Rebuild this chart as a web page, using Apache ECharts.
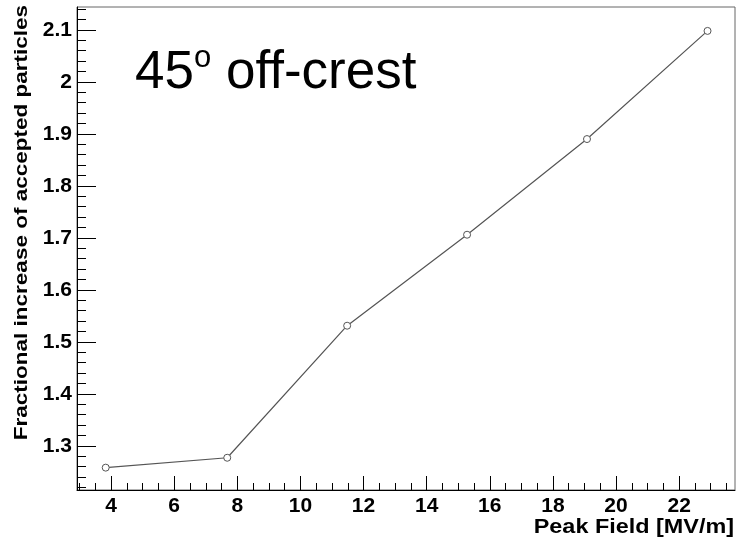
<!DOCTYPE html>
<html>
<head>
<meta charset="utf-8">
<script src="https://cdn.jsdelivr.net/npm/echarts@6/dist/echarts.min.js"></script>
<style>
  html, body { margin: 0; padding: 0; background: #fff; }
  #main { width: 738px; height: 540px; }
</style>
</head>
<body>
<div id="main"></div>
<script>
// peak field [MV/m] and fractional increase
var peakField = [3.83, 7.68, 11.48, 15.28, 19.08, 22.9];
var fracIncrease = [1.258, 1.277, 1.531, 1.706, 1.890, 2.098];

var xMajor = [4, 6, 8, 10, 12, 14, 16, 18, 20, 22];
var yMajor = [1.3, 1.4, 1.5, 1.6, 1.7, 1.8, 1.9, 2.0, 2.1];

var xMin = 2.92, xMax = 23.77;
var yMin = 1.215, yMax = 2.144;

// minor ticks: every 0.5 on x, every 0.02 on y
var xMinor = [];
for (var i = 6; i <= 47; i++) {
    if (i % 4 !== 0) xMinor.push(i / 2);
}
var yMinor = [];
for (var j = 61; j <= 107; j++) {
    if (j % 5 !== 0) yMinor.push(j / 50);
}

var labelFont = 'Liberation Sans, Arial, Helvetica, sans-serif';

var myChart = echarts.init(document.getElementById('main'));

var option = {
    animation: false,
    grid: {
        left: 77,
        top: 7,
        right: 3,
        bottom: 50,
        show: true,
        borderColor: '#666',
        borderWidth: 1
    },
    xAxis: [{
        type: 'value',
        min: xMin,
        max: xMax,
        axisLine: { show: true, onZero: false, lineStyle: { color: '#000', width: 1 } },
        axisTick: { show: true, inside: true, length: 14, customValues: xMajor, lineStyle: { color: '#000' } },
        axisLabel: {
            customValues: xMajor,
            color: '#000',
            fontSize: 21,
            fontWeight: 'bold',
            fontFamily: labelFont,
            margin: 6
        },
        splitLine: { show: false }
    }, {
        type: 'value',
        min: xMin,
        max: xMax,
        position: 'bottom',
        axisLine: { show: false, onZero: false },
        axisTick: { show: true, inside: true, length: 7, customValues: xMinor, lineStyle: { color: '#000' } },
        axisLabel: { show: false },
        splitLine: { show: false }
    }],
    yAxis: [{
        type: 'value',
        min: yMin,
        max: yMax,
        axisLine: { show: true, onZero: false, lineStyle: { color: '#000', width: 1 } },
        axisTick: { show: true, inside: true, length: 19, customValues: yMajor, lineStyle: { color: '#000' } },
        axisLabel: {
            customValues: yMajor,
            color: '#000',
            fontSize: 21,
            fontWeight: 'bold',
            fontFamily: labelFont,
            margin: 5
        },
        splitLine: { show: false }
    }, {
        type: 'value',
        min: yMin,
        max: yMax,
        position: 'left',
        axisLine: { show: false, onZero: false },
        axisTick: { show: true, inside: true, length: 9, customValues: yMinor, lineStyle: { color: '#000' } },
        axisLabel: { show: false },
        splitLine: { show: false }
    }],
    graphic: [{
        type: 'text',
        x: 22,
        y: 5,
        rotation: Math.PI / 2,
        scaleX: 1.25,
        style: {
            text: 'Fractional increase of accepted particles',
            fontSize: 18,
            fontWeight: 'bold',
            fontFamily: labelFont,
            fill: '#000',
            align: 'right',
            textAlign: 'right',
            verticalAlign: 'middle',
            textVerticalAlign: 'middle'
        }
    }, {
        type: 'text',
        x: 734,
        y: 527,
        scaleX: 1.17,
        style: {
            text: 'Peak Field [MV/m]',
            fontSize: 20,
            fontWeight: 'bold',
            fontFamily: labelFont,
            fill: '#000',
            align: 'right',
            textAlign: 'right',
            verticalAlign: 'middle',
            textVerticalAlign: 'middle'
        }
    }, {
        type: 'text',
        x: 135,
        y: 73,
        style: {
            text: '{a|45}{s|o}{a| off-crest}',
            fontFamily: labelFont,
            fill: '#000',
            align: 'left',
            textAlign: 'left',
            verticalAlign: 'middle',
            textVerticalAlign: 'middle',
            rich: {
                a: { fontSize: 53, lineHeight: 60, fontFamily: labelFont, fill: '#000' },
                s: { fontSize: 31, lineHeight: 31, verticalAlign: 'top', fontFamily: labelFont, fill: '#000' }
            }
        }
    }],
    series: [{
        type: 'line',
        xAxisIndex: 0,
        yAxisIndex: 0,
        data: peakField.map(function (x, k) { return [x, fracIncrease[k]]; }),
        symbol: 'circle',
        symbolSize: 7,
        showAllSymbol: true,
        itemStyle: { color: '#fff', borderColor: '#555', borderWidth: 1 },
        lineStyle: { color: '#555', width: 1.2 }
    }]
};

myChart.setOption(option);
</script>
</body>
</html>
